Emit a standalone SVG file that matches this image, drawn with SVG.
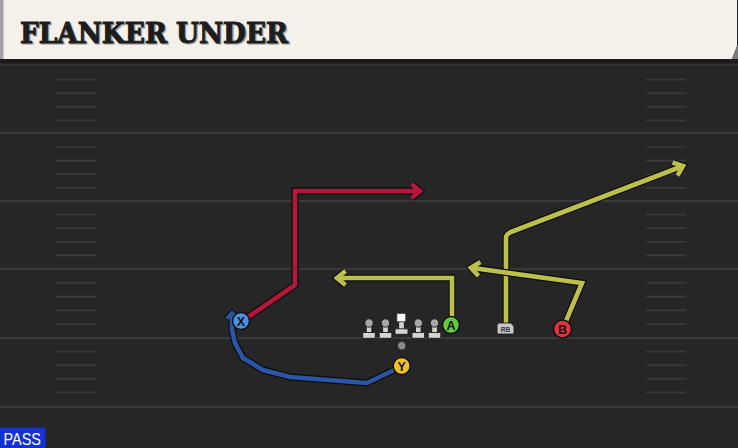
<svg xmlns="http://www.w3.org/2000/svg" width="738" height="448" viewBox="0 0 738 448">
<defs>
<style>
.yard{stroke:#393939;stroke-width:2}
.hash{stroke:#3a3a3a;stroke-width:1.6}
.rt{fill:none;stroke-linejoin:miter;stroke-linecap:butt}
.ol{stroke:#0c0c0c;stroke-width:7}
.red{stroke:#b5173b;stroke-width:4.6}
.yel{stroke:#bdbf4b;stroke-width:4.6}
.blu{stroke:#2b56a8;stroke-width:4.6}
.pc{stroke:#111;stroke-width:1.5}
.lbl{font-family:"Liberation Sans","DejaVu Sans",Arial,sans-serif;font-weight:bold;font-size:12.5px;text-anchor:middle;fill:#111}
.title{font-family:"DejaVu Serif","Liberation Serif",serif;font-weight:bold;font-size:28px}
.lm-head{fill:#a8a8a8;stroke:#1a1a1a;stroke-width:0.9}
.lm-body{fill:#d4d4d4;stroke:#1a1a1a;stroke-width:0.9}
</style>
<marker id="mOl" markerUnits="userSpaceOnUse" orient="auto" overflow="visible" markerWidth="20" markerHeight="20">
<path d="M-8.5,-7 L0,0 L-8.5,7" fill="none" stroke="#0c0c0c" stroke-width="7" stroke-linejoin="miter"/>
</marker>
<marker id="mRed" markerUnits="userSpaceOnUse" orient="auto" overflow="visible" markerWidth="20" markerHeight="20">
<path d="M-8.5,-7 L0,0 L-8.5,7" fill="none" stroke="#b5173b" stroke-width="4.6" stroke-linejoin="miter"/>
</marker>
<marker id="mYel" markerUnits="userSpaceOnUse" orient="auto" overflow="visible" markerWidth="20" markerHeight="20">
<path d="M-8.5,-7 L0,0 L-8.5,7" fill="none" stroke="#bdbf4b" stroke-width="4.6" stroke-linejoin="miter"/>
</marker>
<marker id="mOlS" markerUnits="userSpaceOnUse" orient="auto" overflow="visible" markerWidth="20" markerHeight="20">
<path d="M-5.5,-5 L0,0 L-5.5,5" fill="none" stroke="#0c0c0c" stroke-width="6.5" stroke-linejoin="miter"/>
</marker>
<marker id="mBlu" markerUnits="userSpaceOnUse" orient="auto" overflow="visible" markerWidth="20" markerHeight="20">
<path d="M-5.5,-5 L0,0 L-5.5,5" fill="none" stroke="#2b56a8" stroke-width="4" stroke-linejoin="miter"/>
</marker>
<g id="lineman">
<rect class="lm-body" x="-2.8" y="-1" width="5.6" height="11.5"/>
<rect class="lm-body" x="-6.3" y="9.5" width="12.6" height="5.8" rx="1"/>
<circle class="lm-head" cx="0" cy="0" r="4.2"/>
</g>
</defs>

<!-- field -->
<rect x="0" y="0" width="738" height="448" fill="#262626"/>
<rect x="0" y="58" width="738" height="6" fill="#1b1b1b"/>
<line x1="0" y1="64.5" x2="738" y2="64.5" stroke="#333" stroke-width="2"/>
<g id="yardlines">
<line class="yard" x1="0" y1="133" x2="738" y2="133"/>
<line class="yard" x1="0" y1="201" x2="738" y2="201"/>
<line class="yard" x1="0" y1="269" x2="738" y2="269"/>
<line class="yard" x1="0" y1="338" x2="738" y2="338"/>
<line class="yard" x1="0" y1="407" x2="738" y2="407"/>
</g>
<g id="hashes">
<path class="hash" d="M56,79.6H96M56,93.2H96M56,106.8H96M56,120.4H96M56,147H96M56,160.6H96M56,174.2H96M56,187.8H96M56,214.6H96M56,228.2H96M56,241.8H96M56,255.4H96M56,282.8H96M56,296.6H96M56,310.4H96M56,324.2H96M56,351.6H96M56,365.2H96M56,378.8H96M56,392.4H96"/>
<path class="hash" d="M646,79.6H686M646,93.2H686M646,106.8H686M646,120.4H686M646,147H686M646,160.6H686M646,174.2H686M646,187.8H686M646,214.6H686M646,228.2H686M646,241.8H686M646,255.4H686M646,282.8H686M646,296.6H686M646,310.4H686M646,324.2H686M646,351.6H686M646,365.2H686M646,378.8H686M646,392.4H686"/>
</g>

<!-- header -->
<g id="header">
<polygon points="0,0 737,0 737,46 732,59 0,59" fill="#f4f1ea"/>
<polygon points="737,46 738,46 738,59 732,59" fill="#7a7a7a"/>
<rect x="0" y="0" width="3.5" height="59" fill="#a3a3a3"/>
<text class="title" x="21.3" y="44" fill="#a0a0a0" stroke="#a0a0a0" stroke-width="1" textLength="268" lengthAdjust="spacingAndGlyphs">FLANKER UNDER</text>
<text class="title" x="20" y="42.8" fill="#1d1d1d" stroke="#1d1d1d" stroke-width="1" textLength="268" lengthAdjust="spacingAndGlyphs">FLANKER UNDER</text>
</g>

<!-- connectors -->
<g id="routes">
<path class="rt ol" d="M248,317 L295,285 L295,191 L420,191" marker-end="url(#mOl)"/>
<path class="rt red" d="M248,317 L295,285 L295,191 L420,191" marker-end="url(#mRed)"/>
<path class="rt ol" d="M395,369.5 L367,383 L290,377 L263,370 L243,358 L235,343 L232,330 L232,313" marker-end="url(#mOlS)"/>
<path class="rt blu" d="M395,369.5 L367,383 L290,377 L263,370 L243,358 L235,343 L232,330 L232,313" marker-end="url(#mBlu)"/>
<path class="rt ol" d="M452,317 L452,278 L337,278" marker-end="url(#mOl)"/>
<path class="rt yel" d="M452,317 L452,278 L337,278" marker-end="url(#mYel)"/>
<path class="rt ol" d="M506,323 L506,238 Q506,234 511,232 L683,166" marker-end="url(#mOl)"/>
<path class="rt yel" d="M506,323 L506,238 Q506,234 511,232 L683,166" marker-end="url(#mYel)"/>
<path class="rt ol" d="M566,321 L582,283 L471,267.8" marker-end="url(#mOl)"/>
<path class="rt yel" d="M566,321 L582,283 L471,267.8" marker-end="url(#mYel)"/>
</g>

<!-- offensive line -->
<g id="LT"><use href="#lineman" x="369" y="323"/></g>
<g id="LG"><use href="#lineman" x="385.5" y="323"/></g>
<g id="C">
<rect class="lm-body" x="398.7" y="320" width="5.6" height="10"/>
<rect class="lm-body" x="395" y="328.8" width="13" height="5.5" rx="1"/>
<rect x="396.8" y="313.3" width="9" height="8.5" fill="#fafafa" stroke="#333" stroke-width="0.9"/>
</g>
<g id="RG"><use href="#lineman" x="418.3" y="323"/></g>
<g id="RT"><use href="#lineman" x="434.5" y="323"/></g>

<g id="QB"><circle cx="401.7" cy="345.7" r="4.2" fill="#8a8a8a" stroke="#222" stroke-width="0.8"/></g>

<g id="X">
<circle class="pc" cx="241" cy="321" r="8.5" fill="#4f8fe0"/>
<text class="lbl" x="241" y="325.5">X</text>
</g>
<g id="Y">
<circle class="pc" cx="401.7" cy="366" r="8.5" fill="#f2c224"/>
<text class="lbl" x="401.7" y="370.5">Y</text>
</g>
<g id="A">
<circle class="pc" cx="451" cy="325" r="8.5" fill="#66c93c"/>
<text class="lbl" x="451" y="329.5">A</text>
</g>
<g id="RB">
<path d="M497,325 Q497,323 499.5,323 L511,323 L514,326.5 L514,334 L497,334 Z" fill="#c6c6c6" stroke="#1a1a1a" stroke-width="0.9"/>
<text x="505.5" y="331.6" font-family="'Liberation Sans',Arial,sans-serif" font-weight="bold" font-size="6.5px" text-anchor="middle" fill="#333">RB</text>
</g>
<g id="B">
<circle class="pc" cx="562.5" cy="329" r="9" fill="#e2323f"/>
<text class="lbl" x="562.5" y="333.5">B</text>
</g>

<g id="pass">
<rect x="0" y="427.5" width="45.5" height="20.5" fill="#1431d6"/>
<text x="3.5" y="445" font-family="'Liberation Sans',Arial,sans-serif" font-size="16.5px" fill="#ffffff" textLength="37.5" lengthAdjust="spacingAndGlyphs">PASS</text>
</g>
</svg>
